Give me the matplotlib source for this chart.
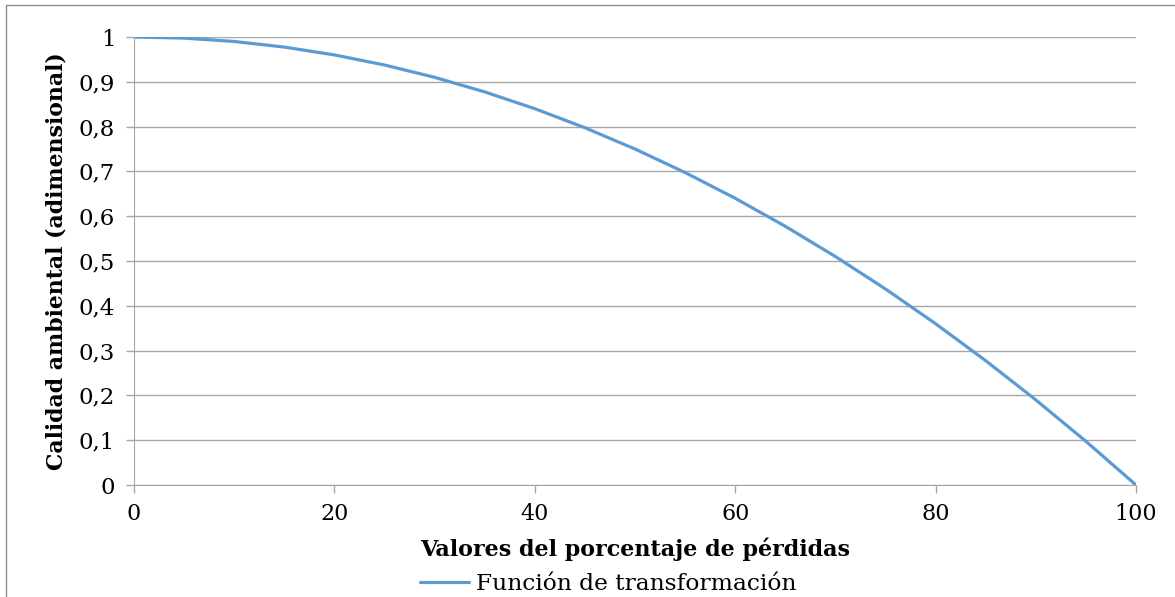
import matplotlib.pyplot as plt
from matplotlib.patches import Rectangle

plt.rcParams.update({"font.family": ["DejaVu Serif"], "font.size": 16})

# values
perdidas = [0, 5, 10, 15, 20, 25, 30, 35, 40, 45, 50, 55, 60, 65, 70, 75, 80, 85, 90, 95, 100]
calidad = [1.0, 0.9975, 0.99, 0.9775, 0.96, 0.9375, 0.91, 0.8775, 0.84, 0.7975, 0.75,
           0.6975, 0.64, 0.5775, 0.51, 0.4375, 0.36, 0.2775, 0.19, 0.0975, 0.0]
yticks = [0, 0.1, 0.2, 0.3, 0.4, 0.5, 0.6, 0.7, 0.8, 0.9, 1]
ytick_labels = ["0", "0,1", "0,2", "0,3", "0,4", "0,5", "0,6", "0,7", "0,8", "0,9", "1"]
xticks = [0, 20, 40, 60, 80, 100]

fig = plt.figure(figsize=(11.75, 5.97), dpi=100)
ax = fig.add_axes([134 / 1175, 1 - 485 / 597, (1136 - 134) / 1175, (485 - 37) / 597])

# outer chart frame (partly cut off on right/bottom)
fig.patches.append(Rectangle((6 / 1175, -0.1), 1.2, 1 - 5 / 597 + 0.1, transform=fig.transFigure,
                             fill=False, edgecolor="#8c8c8c", linewidth=1))

ax.plot(perdidas, calidad, color="#5B9BD5", linewidth=2.3, label="Función de transformación",
        solid_capstyle="round")

ax.set_xlim(0, 100)
ax.set_ylim(0, 1)
ax.set_xticks(xticks)
ax.set_yticks(yticks)
ax.set_yticklabels(ytick_labels)
ax.grid(axis="y", color="#a6a6a6", linewidth=1)
ax.set_axisbelow(True)
for side in ["top", "right"]:
    ax.spines[side].set_visible(False)
for side in ["left", "bottom"]:
    ax.spines[side].set_color("#a6a6a6")
ax.tick_params(axis="both", colors="#a6a6a6", labelcolor="black", length=6, width=1, labelsize=16)
ax.tick_params(axis="y", labelsize=16.5, pad=7.5)
ax.tick_params(axis="x", pad=7)

ax.set_xlabel("Valores del porcentaje de pérdidas", fontweight="bold", fontsize=16, labelpad=9)
ax.set_ylabel("Calidad ambiental (adimensional)", fontweight="bold", fontsize=15.8, labelpad=8)

fig.legend(loc="center", bbox_to_anchor=(608 / 1175, 1 - 584 / 597), frameon=False, fontsize=16.8,
           handlelength=2.1, handletextpad=0.3, borderpad=0, borderaxespad=0)

fig.savefig("out.png", dpi=100)
